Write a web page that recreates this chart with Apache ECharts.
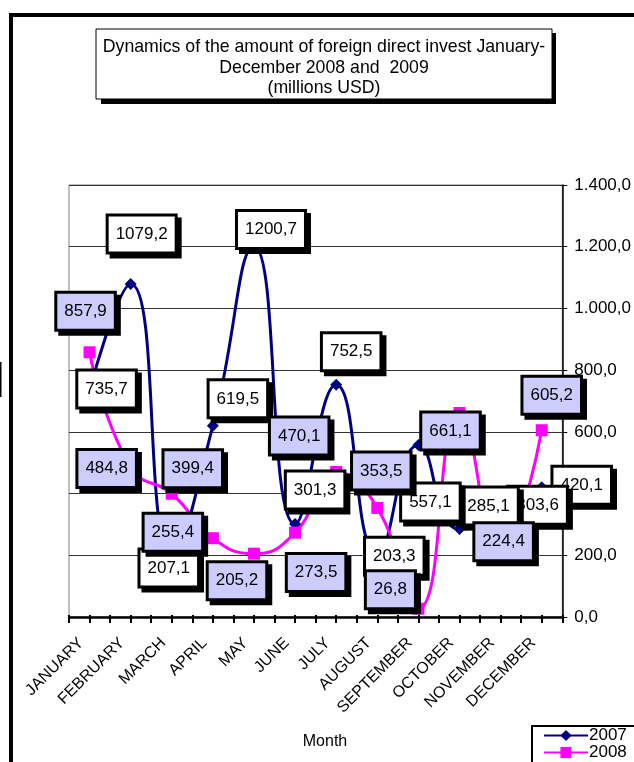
<!DOCTYPE html>
<html>
<head>
<meta charset="utf-8">
<script src="https://cdn.jsdelivr.net/npm/echarts@6/dist/echarts.min.js"></script>
<style>
html,body{margin:0;padding:0;background:#fff;}
#c{width:634px;height:762px;}
</style>
</head>
<body>
<div id="c"></div>
<script>
// ---- data ----
var months = ['JANUARY','FEBRUARY','MARCH','APRIL','MAY','JUNE','JULY','AUGUST','SEPTEMBER','OCTOBER','NOVEMBER','DECEMBER'];
var values2007 = [735.7, 1079.2, 207.1, 619.5, 1200.7, 301.3, 752.5, 203.3, 557.1, 285.1, 303.6, 420.1];
var values2008 = [857.9, 484.8, 399.4, 255.4, 205.2, 273.5, 470.1, 353.5, 26.8, 661.1, 224.4, 605.2];
var yTicks = [0, 200, 400, 600, 800, 1000, 1200, 1400];
var seriesNames = ['2007', '2008'];

// ---- label placement (style, not data) ----
var offsets2007 = [[17,-1],[11,-50],[-3,15],[25,-27],[17,-17],[20,-34],[15,-33],[17,2],[12,57],[29,-23],[37,-18],[40,-2]];
var offsets2008 = [[-4,-41],[-24,1],[21,-25],[-40,-6],[-17,27],[21,40],[-37,-36],[4,-37],[-28,-19],[-9,18],[3,-6],[10,-35]];

var FONT = 'Liberation Sans, Arial, sans-serif';
function fmtComma(v){ return v.toFixed(1).replace('.', ','); }
function fmtAxis(v){
  var s = Math.round(v).toString().replace(/\B(?=(\d{3})+(?!\d))/g, '.');
  return s + ',0';
}
function labelBase(bg){
  return {
    show: true, position: 'inside',
    formatter: function(p){ return fmtComma(p.value[1]); },
    fontFamily: FONT, fontSize: 17, color: '#000',
    backgroundColor: bg, borderColor: '#000', borderWidth: 3,
    padding: [8, 7, 8, 7], lineHeight: 19,
    shadowColor: '#000', shadowBlur: 0, shadowOffsetX: 4, shadowOffsetY: 4
  };
}
function buildData(vals, offs, reverse){
  var d = vals.map(function(v, i){
    return { value: [i, v], label: { offset: offs[i] } };
  });
  return reverse ? d.reverse() : d;
}
var half = [];
for (var i = 0; i < months.length * 2; i++) half.push('');

var legendCommon = {
  show: true, orient: 'horizontal', left: 543, itemGap: 0, itemWidth: 44, itemHeight: 14,
  padding: 0,
  textStyle: { fontFamily: FONT, fontSize: 17, color: '#000', padding: [0,0,0,-4] }
};

var chart = echarts.init(document.getElementById('c'), null, {renderer: 'canvas'});
chart.setOption({
  animation: false,
  backgroundColor: '#fff',
  grid: { left: 69, right: 69, top: 185, bottom: 145, show: true, borderColor: '#808080', borderWidth: 1, backgroundColor: '#fff' },
  xAxis: [
    { type: 'category', data: months, boundaryGap: true,
      axisLine: { show: true, lineStyle: { color: '#000', width: 2.5 } },
      axisTick: { show: false },
      axisLabel: { rotate: 45, fontFamily: FONT, fontSize: 16, color: '#000', margin: 15, interval: 0, padding: [0, 12, 0, 0] }
    },
    { type: 'category', data: half, boundaryGap: true, position: 'bottom',
      axisLine: { show: false }, axisLabel: { show: false },
      axisTick: { show: true, inside: true, length: 2, lineStyle: { color: '#000', width: 2 } } },
    { type: 'category', data: half, boundaryGap: true, position: 'bottom',
      axisLine: { show: false }, axisLabel: { show: false },
      axisTick: { show: true, inside: false, length: 6, lineStyle: { color: '#000', width: 2 } } }
  ],
  yAxis: {
    type: 'value', position: 'right', min: yTicks[0], max: yTicks[yTicks.length-1], interval: 200,
    axisLine: { show: true, lineStyle: { color: '#000', width: 1.5 } },
    axisTick: { show: true, length: 5, lineStyle: { color: '#000' } },
    axisLabel: { formatter: fmtAxis, fontFamily: FONT, fontSize: 17, color: '#000', margin: 12 },
    splitLine: { show: true, lineStyle: { color: '#333', width: 1 } }
  },
  legend: [
    Object.assign({}, legendCommon, { top: 727, data: [seriesNames[0]] }),
    Object.assign({}, legendCommon, { top: 744, data: [seriesNames[1]] })
  ],
  series: [
    { name: seriesNames[0], type: 'line', smooth: 0.5, xAxisIndex: 0,
      data: buildData(values2007, offsets2007, true),
      symbol: 'diamond', symbolSize: 12,
      lineStyle: { color: '#000080', width: 3 },
      itemStyle: { color: '#000080' },
      label: labelBase('#ffffff'), z: 2 },
    { name: seriesNames[1], type: 'line', smooth: 0.5, xAxisIndex: 0,
      data: buildData(values2008, offsets2008, false),
      symbol: 'rect', symbolSize: 12,
      lineStyle: { color: '#ff00ff', width: 3 },
      itemStyle: { color: '#ff00ff' },
      label: labelBase('#ccccff'), z: 2 }
  ],
  graphic: [
    { type: 'rect', shape: { x: 11, y: 15, width: 800, height: 800 }, style: { fill: 'none', stroke: '#000', lineWidth: 4 }, z: 0, silent: true },
    { type: 'rect', shape: { x: 0, y: 362, width: 1.5, height: 35 }, style: { fill: '#000' }, silent: true },
    { type: 'rect', shape: { x: 101, y: 33, width: 455, height: 71 }, style: { fill: '#000' }, z: 10, silent: true },
    { type: 'rect', shape: { x: 96, y: 29, width: 456, height: 70 }, style: { fill: '#fff', stroke: '#000', lineWidth: 1 }, z: 11, silent: true },
    { type: 'text', x: 324, y: 37, z: 12, silent: true,
      style: { text: 'Dynamics of the amount of foreign direct invest January-\nDecember 2008 and  2009\n(millions USD)',
        fontFamily: FONT, fontSize: 17.7, lineHeight: 20.5, fill: '#000', align: 'center', verticalAlign: 'top' } },
    { type: 'text', x: 325, y: 742, z: 5, silent: true,
      style: { text: 'Month', fontFamily: FONT, fontSize: 16, fill: '#000', align: 'center', verticalAlign: 'middle' } },
    { type: 'rect', shape: { x: 532, y: 726, width: 150, height: 60 }, style: { fill: '#fff', stroke: '#000', lineWidth: 2 }, z: 1, silent: true }
  ]
});
</script>
</body>
</html>
